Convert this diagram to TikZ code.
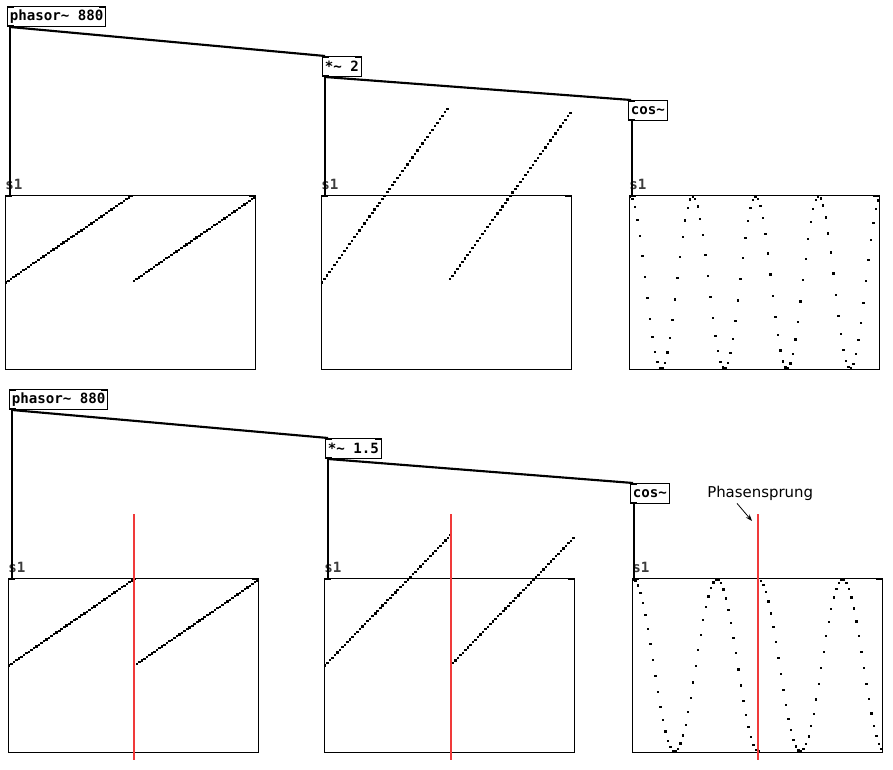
\documentclass[tikz,border=0pt]{standalone}
\usepackage{fontspec}
\newfontfamily\pdmono{DejaVu Sans Mono}
\newfontfamily\pdsans{DejaVu Sans}
\usepackage{tikz}
\usetikzlibrary{arrows.meta,positioning,calc}
\definecolor{ink}{HTML}{000000}
\definecolor{mark}{HTML}{F03A3A}
\definecolor{lbl}{HTML}{3C3C3C}

% dots of one table: phase of phasor~ 880 at 44100 Hz, 100 samples
\newcommand\sawdots[2]{%
  \foreach \n in {0,...,99}{%
    \pgfmathsetmacro\ph{\n*0.0199546-floor(\n*0.0199546)}%
    \pgfmathsetmacro\val{#2*\ph}%
    \fill[ink] ($(#1.west)+(\n*2.51+1,-\val*87)$) ++(-1.3,-1.1) rectangle ++(2.6,2.2);
  }}
\newcommand\cosdots[2]{%
  \foreach \n in {0,...,99}{%
    \pgfmathsetmacro\ph{\n*0.0199546-floor(\n*0.0199546)}%
    \pgfmathsetmacro\val{cos(360*#2*\ph)}%
    \fill[ink] ($(#1.west)+(\n*2.51+1,-\val*86)$) ++(-1.2,-1.1) rectangle ++(2.4,2.2);
  }}
\newcommand\inlets[1]{%
  \fill[ink] (#1.north west) rectangle ++(7,2);
  \fill[ink] (#1.north east) rectangle ++(-7,2);}
\newcommand\outlet[1]{%
  \fill[ink] (#1.south west) rectangle ++(7,-2);}

\begin{document}
\begin{tikzpicture}[x=0.75pt,y=-0.75pt,
    pdobj/.style={draw=ink,line width=0.75pt,anchor=north west,minimum height=15pt,
                  inner xsep=1.8pt,inner ysep=0pt,font=\pdmono\bfseries\fontsize{10.6}{12}\selectfont},
    table/.style={draw=ink,line width=0.75pt,anchor=north west,inner sep=0pt,
                  minimum width=187.5pt,minimum height=130.5pt},
    tname/.style={anchor=south west,inner sep=0pt,text=lbl,
                  font=\pdmono\bfseries\fontsize{10.6}{12}\selectfont},
    wire/.style={draw=ink,line width=1.6pt},
    redmark/.style={draw=mark,line width=1.05pt}]
  \useasboundingbox (0,0) rectangle (893,770);

  % upper patch: *~ 2
  \node[pdobj] (phA) at (7,6) {phasor\textasciitilde{} 880};
  \node[pdobj] (mulA) at (322,56) {*\textasciitilde{} 2};
  \node[pdobj] (cosA) at (628,100) {cos\textasciitilde};
  \node[table] (tA1) at (5,195) {};
  \node[table] (tA2) at (321,195) {};
  \node[table] (tA3) at (629,195) {};
  \foreach \t in {tA1,tA2,tA3}{
    \node[tname] at ($(\t.north west)+(0,-5)$) {s1};
    \inlets{\t}
  }
  \foreach \b in {phA,mulA}{\inlets{\b}\outlet{\b}}
  \fill[ink] (cosA.north west) rectangle ++(7,2);
  \outlet{cosA}

  \coordinate (outA1) at ($(phA.south west)+(3,0)$);
  \coordinate (outA2) at ($(mulA.south west)+(3,0)$);
  \coordinate (outA3) at ($(cosA.south west)+(4,0)$);
  \draw[wire] (outA1) -- (outA1 |- tA1.north);
  \draw[wire] (outA1) -- ($(mulA.north west)+(3,0)$);
  \draw[wire] (outA2) -- (outA2 |- tA2.north);
  \draw[wire] (outA2) -- ($(cosA.north west)+(3,0)$);
  \draw[wire] (outA3) -- (outA3 |- tA3.north);

  \sawdots{tA1}{1}
  \sawdots{tA2}{2}
  \cosdots{tA3}{2}

  % lower patch: *~ 1.5
  \node[pdobj] (phB) at (9,389) {phasor\textasciitilde{} 880};
  \node[pdobj] (mulB) at (325,438) {*\textasciitilde{} 1.5};
  \node[pdobj] (cosB) at (630,483) {cos\textasciitilde};
  \node[table] (tB1) at (8,578) {};
  \node[table] (tB2) at (324,578) {};
  \node[table] (tB3) at (632,578) {};
  \foreach \t in {tB1,tB2,tB3}{
    \node[tname] at ($(\t.north west)+(0,-5)$) {s1};
    \inlets{\t}
  }
  \foreach \b in {phB,mulB}{\inlets{\b}\outlet{\b}}
  \fill[ink] (cosB.north west) rectangle ++(7,2);
  \outlet{cosB}

  \coordinate (outB1) at ($(phB.south west)+(3,0)$);
  \coordinate (outB2) at ($(mulB.south west)+(3,0)$);
  \coordinate (outB3) at ($(cosB.south west)+(4,0)$);
  \draw[wire] (outB1) -- (outB1 |- tB1.north);
  \draw[wire] (outB1) -- ($(mulB.north west)+(3,0)$);
  \draw[wire] (outB2) -- (outB2 |- tB2.north);
  \draw[wire] (outB2) -- ($(cosB.north west)+(3,0)$);
  \draw[wire] (outB3) -- (outB3 |- tB3.north);

  \sawdots{tB1}{1}
  \sawdots{tB2}{1.5}
  \cosdots{tB3}{1.5}

  % where the phase jumps
  \draw[redmark] (134,514) -- (134,760);
  \draw[redmark] (451,514) -- (451,760);
  \draw[redmark] (758,514) -- (758,760);
  \node[anchor=base west,inner sep=0pt,font=\pdsans\fontsize{11.2}{13}\selectfont] (jump) at (707,497) {Phasensprung};
  \coordinate (jumptip) at (752,521);
  \draw[ink,line width=0.6pt,-{Stealth[length=5pt,width=3.6pt]}] ($(jump.south west)+(30,3)$) -- (jumptip);
\end{tikzpicture}
\end{document}
